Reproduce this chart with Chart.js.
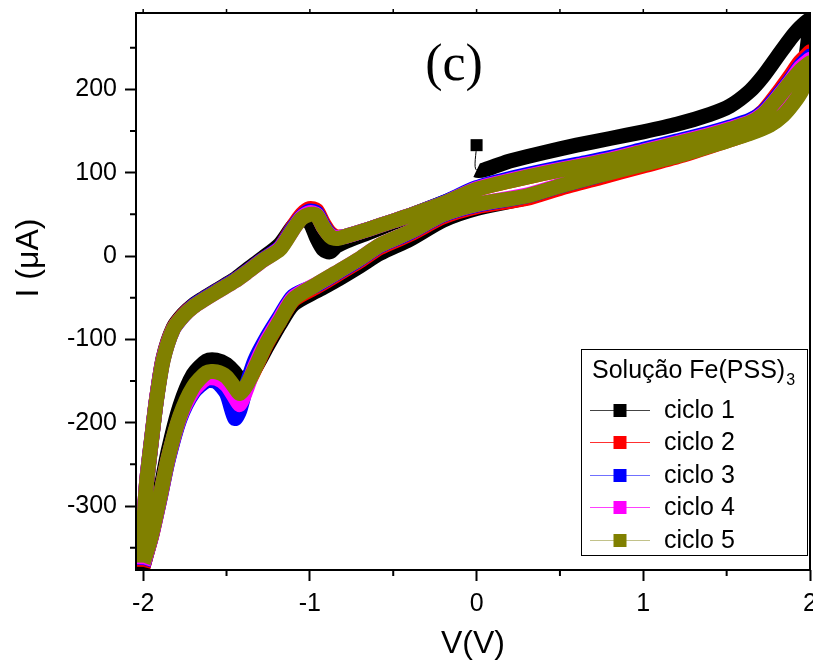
<!DOCTYPE html>
<html>
<head>
<meta charset="utf-8">
<script src="https://cdn.jsdelivr.net/npm/chart.js@4.4.0/dist/chart.umd.min.js"></script>
<style>
  html, body { margin: 0; padding: 0; background: #fff; overflow: hidden; }
  #wrap { position: relative; width: 830px; height: 663px; }
</style>
</head>
<body>
<div id="wrap"><canvas id="cvChart"></canvas></div>
<script>
// potential grids (V): forward sweep -2 -> 2, reverse sweep 2 -> -2
const vForward = [-2.00, -1.995, -1.98, -1.95, -1.92, -1.88, -1.82, -1.76, -1.70, -1.64,
  -1.55, -1.45, -1.38, -1.28, -1.18, -1.10, -1.05, -1.00, -0.96, -0.92,
  -0.88, -0.84, -0.78, -0.65, -0.50, -0.38, -0.20, 0.00, 0.20, 0.40,
  0.60, 0.80, 1.00, 1.20, 1.40, 1.52, 1.64, 1.72, 1.80, 1.88, 1.94, 2.00];
const vReverse = [2.00, 1.98, 1.95, 1.90, 1.84, 1.76, 1.64, 1.50, 1.24, 1.00,
  0.74, 0.50, 0.30, 0.00, -0.20, -0.40, -0.58, -0.70, -0.85, -0.96,
  -1.10, -1.18, -1.26, -1.33, -1.38, -1.42, -1.45, -1.50, -1.56, -1.62,
  -1.70, -1.78, -1.85, -1.90, -1.95, -1.98, -2.00];

// ciclo 1 starts at 0 V
const vStart1 = [0, 0];
const iStart1 = [133, 103];

// currents (uA)
const ciclo1Forward = [-372, -325, -275, -222, -172, -122, -86, -70, -59, -51,
  -40, -28, -17, -2, 14, 36, 44, 40, 22, 8,
  5, 12, 18, 28, 40, 50, 64, 80, 114, 124,
  133, 141, 149, 158, 170, 180, 198, 216, 238, 260, 274, 284];
const ciclo1Reverse = [280, 245, 205, 185, 170, 158, 148, 139, 123, 110,
  96, 83, 70, 57, 43, 20, 3, -12, -30, -42,
  -58, -82, -110, -135, -146, -148, -140, -130, -125, -126,
  -142, -180, -234, -285, -335, -358, -372];

const ciclo2Forward = [-373, -322, -272, -220, -171, -123, -87, -71, -60, -52,
  -41, -29, -19, -4, 10, 36, 50, 57, 55, 40,
  28, 23, 24, 32, 42, 50, 63, 80, 90, 99,
  107, 115, 125, 135, 145, 153, 162, 174, 194, 216, 233, 245];
const ciclo2Reverse = [245, 228, 207, 187, 171, 158, 148, 138, 121, 108,
  94, 81, 69, 59, 47, 26, 10, -6, -24, -37,
  -53, -78, -106, -136, -156, -167, -160, -147, -141, -142,
  -159, -194, -244, -292, -337, -358, -373];

const ciclo3Forward = [-371, -321, -272, -220, -172, -124, -88, -72, -60, -52,
  -41, -29, -19, -4, 10, 34, 47, 54, 52, 37,
  26, 22, 24, 32, 42, 50, 64, 82, 93, 102,
  110, 118, 128, 138, 148, 155, 163, 173, 191, 211, 228, 240];
const ciclo3Reverse = [240, 220, 201, 186, 172, 160, 150, 140, 124, 112,
  97, 84, 72, 61, 49, 28, 12, -4, -22, -35,
  -48, -72, -98, -125, -155, -185, -195, -165, -151, -150,
  -164, -196, -245, -292, -336, -357, -371];

const ciclo4Forward = [-370, -320, -272, -221, -172, -124, -88, -72, -61, -53,
  -42, -30, -20, -5, 9, 32, 46, 52, 50, 35,
  25, 22, 24, 32, 42, 50, 63, 81, 91, 100,
  108, 116, 126, 136, 146, 153, 161, 171, 189, 209, 226, 236];
const ciclo4Reverse = [236, 216, 199, 185, 171, 159, 149, 139, 124, 112,
  98, 85, 73, 62, 50, 29, 13, -3, -21, -34,
  -50, -75, -102, -132, -160, -178, -170, -155, -147, -147,
  -162, -194, -243, -291, -336, -357, -370];

const ciclo5Forward = [-368, -320, -273, -221, -173, -125, -88, -72, -61, -53,
  -42, -30, -20, -5, 8, 32, 45, 50, 49, 35,
  24, 21, 24, 32, 42, 50, 63, 80, 90, 99,
  107, 115, 125, 135, 145, 152, 160, 170, 188, 208, 222, 232];
const ciclo5Reverse = [232, 214, 198, 183, 169, 157, 147, 138, 122, 110,
  97, 84, 72, 62, 50, 29, 13, -3, -21, -34,
  -52, -78, -105, -135, -155, -165, -158, -145, -139, -140,
  -157, -192, -242, -290, -335, -356, -368];

const cicloLabels = ['ciclo 1', 'ciclo 2', 'ciclo 3', 'ciclo 4', 'ciclo 5'];
const legendTitle = 'Solução Fe(PSS)';
const legendTitleSub = '3';
const xTitle = 'V(V)';
const yTitle = 'I (μA)';
const panelLabel = '(c)';

const colors = ['#000000', '#ff0000', '#0000ff', '#ff00ff', '#808000'];
const legendLineColors = ['#444444', '#ff3030', '#7070ff', '#ff40ff', '#c2c28a'];

function pts(vs, is) {
  return vs.map((v, k) => ({ x: v, y: is[k] }));
}

const fwd1 = pts(vForward, ciclo1Forward);
const ciclo1Data = pts(vStart1, iStart1)
  .concat(fwd1.filter(p => p.x > 0))
  .concat(pts(vReverse, ciclo1Reverse))
  .concat(fwd1.filter(p => p.x <= 0));

const cycleData = [
  ciclo1Data,
  pts(vForward, ciclo2Forward).concat(pts(vReverse, ciclo2Reverse)),
  pts(vForward, ciclo3Forward).concat(pts(vReverse, ciclo3Reverse)),
  pts(vForward, ciclo4Forward).concat(pts(vReverse, ciclo4Reverse)),
  pts(vForward, ciclo5Forward).concat(pts(vReverse, ciclo5Reverse))
];

const BAND = 15;
const FONT = "'Liberation Sans', Arial, sans-serif";
Chart.defaults.font.family = FONT;
Chart.defaults.color = '#000';

const datasets = cycleData.map((d, k) => ({
  label: cicloLabels[k],
  data: d,
  borderColor: colors[k],
  backgroundColor: colors[k],
  legendLine: legendLineColors[k],
  borderWidth: BAND,
  borderJoinStyle: 'round',
  borderCapStyle: 'butt',
  tension: 0.25,
  fill: false,
  clip: 0,
  order: 5 - k,
  pointStyle: 'rect',
  pointBorderWidth: 0,
  pointRadius: k === 0 ? (ctx => ctx.dataIndex === 0 ? 8.5 : 0) : 0,
  segment: k === 0 ? { borderWidth: ctx => ctx.p0DataIndex === 0 ? 1 : BAND } : undefined
}));

// frame, minor ticks, y title and panel label
const framePlugin = {
  id: 'frame',
  afterDraw(chart) {
    const { ctx, chartArea: a, scales } = chart;
    ctx.save();
    ctx.strokeStyle = '#000';
    ctx.lineWidth = 2;
    ctx.strokeRect(a.left, a.top, a.right - a.left, a.bottom - a.top);
    ctx.beginPath();
    [-1.5, -0.5, 0.5, 1.5].forEach(v => {
      const px = scales.x.getPixelForValue(v);
      ctx.moveTo(px, a.bottom); ctx.lineTo(px, a.bottom + 6);
    });
    [-350, -250, -150, -50, 50, 150, 250].forEach(v => {
      const py = scales.y.getPixelForValue(v);
      ctx.moveTo(a.left, py); ctx.lineTo(a.left - 6, py);
    });
    ctx.stroke();
    ctx.beginPath();
    ctx.lineWidth = 1.5;
    [-2, -1.5, -1, -0.5, 0, 0.5, 1, 1.5].forEach(v => {
      const px = scales.x.getPixelForValue(v);
      ctx.moveTo(px, a.top); ctx.lineTo(px, a.top - 4);
    });
    ctx.stroke();

    ctx.fillStyle = '#000';
    ctx.textAlign = 'center';
    ctx.textBaseline = 'middle';
    ctx.save();
    ctx.translate(29, 258);
    ctx.rotate(-Math.PI / 2);
    ctx.font = '32px ' + FONT;
    ctx.fillText(yTitle, 0, 0);
    ctx.restore();

    ctx.font = "52px 'Liberation Serif', 'Times New Roman', serif";
    ctx.fillText(panelLabel, 454, 66);
    ctx.restore();
  }
};

// legend box drawn inside the plot area
const legendPlugin = {
  id: 'boxLegend',
  afterDraw(chart) {
    const ctx = chart.ctx;
    const bx = 581.5, by = 349.5, bw = 226, bh = 206;
    ctx.save();
    ctx.fillStyle = '#fff';
    ctx.fillRect(bx, by, bw, bh);
    ctx.strokeStyle = '#000';
    ctx.lineWidth = 1;
    ctx.strokeRect(bx, by, bw, bh);

    ctx.fillStyle = '#000';
    ctx.textBaseline = 'middle';
    ctx.textAlign = 'left';
    ctx.font = '25px ' + FONT;
    ctx.fillText(legendTitle, 592, 371);
    const tw = ctx.measureText(legendTitle).width;
    ctx.font = '16px ' + FONT;
    ctx.fillText(legendTitleSub, 592 + tw + 1, 381);

    chart.data.datasets.forEach((ds, k) => {
      const y = Math.round(410 + k * 32.4) + 0.5;
      ctx.strokeStyle = ds.legendLine;
      ctx.lineWidth = 1;
      ctx.beginPath();
      ctx.moveTo(590, y); ctx.lineTo(650, y);
      ctx.stroke();
      ctx.fillStyle = ds.backgroundColor;
      ctx.fillRect(613.5, y - 6.5, 13, 13);
      ctx.fillStyle = '#000';
      ctx.font = '25px ' + FONT;
      ctx.fillText(ds.label, 664, y + 1);
    });
    ctx.restore();
  }
};

new Chart(document.getElementById('cvChart'), {
  type: 'line',
  data: { datasets: datasets },
  options: {
    responsive: true,
    maintainAspectRatio: false,
    animation: false,
    layout: { padding: { top: 13, right: 20, left: 0, bottom: 0 } },
    plugins: { legend: { display: false }, tooltip: { enabled: false } },
    scales: {
      x: {
        type: 'linear',
        min: -2.043,
        max: 2.0,
        afterFit(s) { s.height = 93; s.paddingLeft = 0; s.paddingRight = 0; },
        ticks: { stepSize: 1, includeBounds: false, font: { size: 25 }, padding: 8, maxRotation: 0 },
        grid: { drawOnChartArea: false, drawTicks: true, tickLength: 11, tickWidth: 2, tickColor: '#000' },
        border: { display: false },
        title: { display: true, text: xTitle, font: { size: 32 }, padding: { top: 0, bottom: 0 } }
      },
      y: {
        type: 'linear',
        min: -376.8,
        max: 291.6,
        afterFit(s) { s.width = 136; s.paddingTop = 0; s.paddingBottom = 0; },
        ticks: { stepSize: 100, includeBounds: false, font: { size: 25 }, padding: 8 },
        grid: { drawOnChartArea: false, drawTicks: true, tickLength: 11, tickWidth: 2, tickColor: '#000' },
        border: { display: false },
        title: { display: false }
      }
    }
  },
  plugins: [framePlugin, legendPlugin]
});
</script>
</body>
</html>
